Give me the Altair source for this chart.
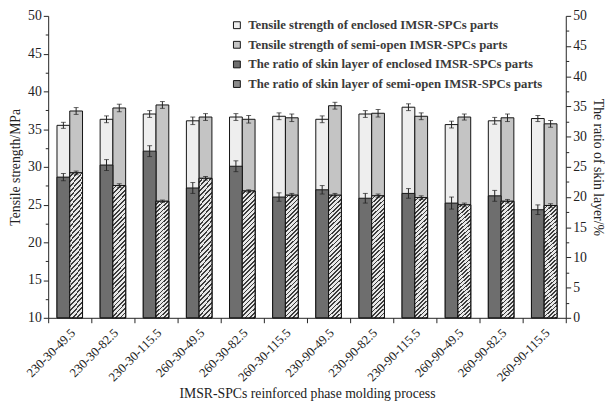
import altair as alt
import pandas as pd

categories = ["230-30-49.5", "230-30-82.5", "230-30-115.5", "260-30-49.5", "260-30-82.5", "260-30-115.5",
              "230-90-49.5", "230-90-82.5", "230-90-115.5", "260-90-49.5", "260-90-82.5", "260-90-115.5"]
groups = ["Enclosed", "Semi-open"]

tensile_enclosed = [35.5, 36.3, 37.0, 36.1, 36.6, 36.7, 36.3, 37.0, 37.9, 35.6, 36.1, 36.4]
tensile_semi = [37.4, 37.8, 38.2, 36.6, 36.3, 36.5, 38.1, 37.1, 36.7, 36.6, 36.5, 35.7]
tensile_err_enclosed = [0.40, 0.45, 0.45, 0.50, 0.45, 0.45, 0.45, 0.45, 0.45, 0.45, 0.45, 0.40]
tensile_err_semi = [0.45, 0.50, 0.45, 0.45, 0.50, 0.50, 0.45, 0.50, 0.45, 0.40, 0.50, 0.45]

ratio_enclosed = [23.3, 25.3, 27.6, 21.5, 25.1, 20.0, 21.2, 19.8, 20.6, 19.0, 20.2, 17.9]
ratio_semi = [24.0, 21.9, 19.3, 23.1, 21.0, 20.3, 20.3, 20.2, 19.9, 18.7, 19.3, 18.6]
ratio_err_enclosed = [0.6, 0.9, 0.9, 0.9, 0.9, 0.7, 0.7, 0.8, 0.8, 1.0, 0.9, 0.8]
ratio_err_semi = [0.3, 0.3, 0.2, 0.3, 0.2, 0.3, 0.3, 0.3, 0.3, 0.3, 0.3, 0.3]

legend_labels = [
    "Tensile strength of enclosed IMSR-SPCs parts",
    "Tensile strength of semi-open IMSR-SPCs parts",
    "The ratio of skin layer of enclosed IMSR-SPCs parts",
    "The ratio of skin layer of semi-open IMSR-SPCs parts",
]
legend_colors = ["#eeeeee", "#c4c4c4", "#6e6e6e", "#8c8c8c"]

left_ticks = [10 + 2.5 * i for i in range(17)]
right_ticks = [2.5 * i for i in range(21)]

rows = []
for i, c in enumerate(categories):
    rows.append(dict(cat=c, grp="Enclosed", tensile=tensile_enclosed[i], terr=tensile_err_enclosed[i],
                     ratio=ratio_enclosed[i], rerr=ratio_err_enclosed[i],
                     tlabel=legend_labels[0], rlabel=legend_labels[2]))
    rows.append(dict(cat=c, grp="Semi-open", tensile=tensile_semi[i], terr=tensile_err_semi[i],
                     ratio=ratio_semi[i], rerr=ratio_err_semi[i],
                     tlabel=legend_labels[1], rlabel=legend_labels[3]))
df = pd.DataFrame(rows)
df["tlo"] = df["tensile"] - df["terr"]
df["thi"] = df["tensile"] + df["terr"]
df["rlo"] = df["ratio"] - df["rerr"]
df["rhi"] = df["ratio"] + df["rerr"]

FONT = "Liberation Serif"

# diagonal "////" hatch as a striped linear gradient (bounding-box units)
hatch_stops = []
period = 0.0034
k = 0
while k * period < 0.13:
    s = k * period
    hatch_stops += [
        alt.GradientStop(color="#e8e8e8", offset=round(s, 5)),
        alt.GradientStop(color="#e8e8e8", offset=round(s + period * 0.6, 5)),
        alt.GradientStop(color="#3c3c3c", offset=round(s + period * 0.6, 5)),
        alt.GradientStop(color="#3c3c3c", offset=round(s + period, 5)),
    ]
    k += 1
hatch = alt.LinearGradient(gradient="linear", stops=hatch_stops, x1=0, y1=0, x2=1, y2=10)

x_axis = alt.Axis(title="IMSR-SPCs reinforced phase molding process", tickBand="extent", labelAngle=-45,
                  labelAlign="right", labelBaseline="middle", labelFont=FONT, labelFontSize=13,
                  labelColor="#222", titleFont=FONT, titleFontSize=14, titleFontWeight="normal",
                  titleColor="#222", tickSize=5, tickColor="#222", domainColor="#222", labelPadding=8,
                  labelOffset=3, titlePadding=3)
x_enc = alt.X("cat:N", sort=categories, scale=alt.Scale(paddingInner=0, paddingOuter=0), axis=x_axis)
xo_enc = alt.XOffset("grp:N", sort=groups, scale=alt.Scale(domain=groups, paddingInner=0, paddingOuter=0.69))

tick_size_cond = {"condition": {"test": "datum.value % 5 != 0", "value": 3}, "value": 5}
left_axis = alt.Axis(title="Tensile strength/MPa", values=left_ticks, grid=False,
                     labelExpr="datum.value % 5 == 0 ? datum.label : ''",
                     tickSize=tick_size_cond, tickColor="#222", domainColor="#222",
                     labelFont=FONT, labelFontSize=14, labelColor="#222", labelPadding=2,
                     titleFont=FONT, titleFontSize=14, titleFontWeight="normal", titleColor="#222",
                     titlePadding=5)
right_axis = alt.Axis(title="The ratio of skin layer/%", orient="right", values=right_ticks, grid=False,
                      labelExpr="datum.value % 5 == 0 ? datum.label : ''",
                      tickSize=tick_size_cond, tickColor="#222", domainColor="#222",
                      labelFont=FONT, labelFontSize=14, labelColor="#222", labelPadding=2,
                      titleFont=FONT, titleFontSize=14, titleFontWeight="normal", titleColor="#222",
                      titlePadding=4)

yl_scale = alt.Scale(domain=[10, 50], nice=False, zero=False)
yr_scale = alt.Scale(domain=[0, 50], nice=False)

color_scale = alt.Scale(domain=legend_labels, range=legend_colors)
legend = alt.Legend(orient="none", legendX=186, legendY=3, title=None, symbolType="square",
                    symbolSize=49, symbolStrokeColor="#111", symbolStrokeWidth=1,
                    labelFont=FONT, labelFontSize=13, labelFontWeight="bold", labelColor="#3a3a3a",
                    rowPadding=6, labelLimit=400, labelOffset=5)

base = alt.Chart(df).encode(x=x_enc, xOffset=xo_enc)

t_bars = base.mark_bar(stroke="#111", strokeWidth=1).encode(
    y=alt.Y("tensile:Q", scale=yl_scale, axis=left_axis),
    y2=alt.datum(10),
    color=alt.Color("tlabel:N", scale=color_scale, legend=legend),
)
t_rule = base.mark_rule(color="#222", strokeWidth=1).encode(
    y=alt.Y("tlo:Q", scale=yl_scale, axis=left_axis), y2="thi:Q")
t_cap_hi = base.mark_tick(color="#222", size=5, thickness=1).encode(
    y=alt.Y("thi:Q", scale=yl_scale, axis=left_axis))
t_cap_lo = base.mark_tick(color="#222", size=5, thickness=1).encode(
    y=alt.Y("tlo:Q", scale=yl_scale, axis=left_axis))
tensile_group = alt.layer(t_bars, t_rule, t_cap_hi, t_cap_lo)

r_bars = base.mark_bar(stroke="#111", strokeWidth=1).encode(
    y=alt.Y("ratio:Q", scale=yr_scale, axis=right_axis),
    y2=alt.datum(0),
    color=alt.Color("rlabel:N", scale=color_scale, legend=legend),
)
r_hatch = base.transform_filter(alt.datum.grp == "Semi-open").mark_bar(
    fill=hatch, stroke="#111", strokeWidth=1
).encode(
    y=alt.Y("ratio:Q", scale=yr_scale, axis=right_axis),
    y2=alt.datum(0),
)
r_rule = base.mark_rule(color="#222", strokeWidth=1).encode(
    y=alt.Y("rlo:Q", scale=yr_scale, axis=right_axis), y2="rhi:Q")
r_cap_hi = base.mark_tick(color="#222", size=5, thickness=1).encode(
    y=alt.Y("rhi:Q", scale=yr_scale, axis=right_axis))
r_cap_lo = base.mark_tick(color="#222", size=5, thickness=1).encode(
    y=alt.Y("rlo:Q", scale=yr_scale, axis=right_axis))
ratio_group = alt.layer(r_bars, r_hatch, r_rule, r_cap_hi, r_cap_lo)

chart = alt.layer(tensile_group, ratio_group).resolve_scale(y="independent").properties(
    width=528, height=308,
    padding={"left": 41, "top": 4, "right": 40, "bottom": 90},
    autosize=alt.AutoSizeParams(type="none"),
    background="white",
).configure_view(strokeWidth=0)

chart.save("out.html", embed_options={"renderer": "svg", "actions": False})
